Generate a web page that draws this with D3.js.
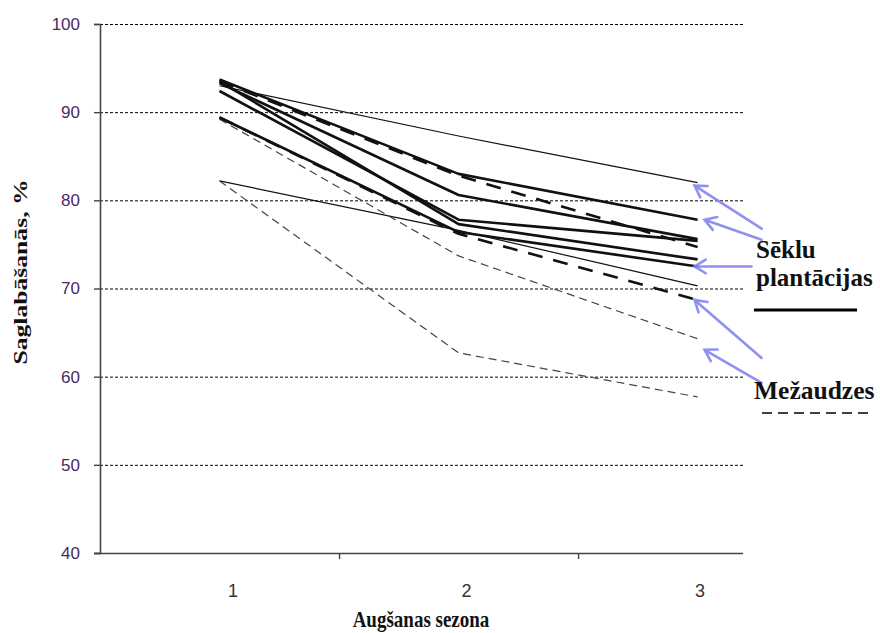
<!DOCTYPE html>
<html><head><meta charset="utf-8">
<script src="https://cdn.jsdelivr.net/npm/d3@7"></script>
<style>body{margin:0;background:#fff}svg{display:block}</style>
</head><body>
<script>
// ---- data ----
const seasons = [1, 2, 3];
const yTicks = [40, 50, 60, 70, 80, 90, 100];
const gridValues = [50, 60, 70, 80, 90, 100];
const seriesNames = ["SP1","SP2","SP3","SP4","SP5","SP6","SP7","M1","M2","M3","M4"];
const seriesGroup = ["plant","plant","plant","plant","plant","plant","plant","forest","forest","forest","forest"];
const seriesWeight = ["thin","thin","thick","thick","thick","thick","thick","thick","thick","thin","thin"];
const seriesValues = [
  [93.0, 87.3, 82.0],
  [82.2, 76.6, 70.3],
  [93.7, 83.0, 77.8],
  [93.3, 80.6, 75.6],
  [92.4, 77.8, 75.4],
  [93.5, 77.3, 73.3],
  [89.4, 76.4, 72.5],
  [93.5, 82.8, 74.7],
  [89.4, 76.2, 68.7],
  [89.2, 73.7, 64.3],
  [82.2, 62.7, 57.7]
];
const yTitle = "Saglabāšanās, %";
const xTitle = "Augšanas sezona";
const legendPlant = ["Sēklu", "plantācijas"];
const legendForest = "Mežaudzes";
// arrows point at series end values (index of series)
const arrowTargets = [0, 2, 6, 8, 9];

// ---- chart ----
const W = 880, H = 633;
const svg = d3.select("body").append("svg").attr("width", W).attr("height", H);
const x = d3.scaleLinear().domain([0.5, 3.19]).range([100, 743]);
const y = d3.scaleLinear().domain([40, 100]).range([553, 24]);
const xLabel = d3.scalePoint().domain(seasons).range([233, 700]);

// grid
svg.append("g").selectAll("line").data(gridValues).join("line")
  .attr("x1", x(0.5)).attr("x2", x(3.19))
  .attr("y1", d => y(d) + 0.5).attr("y2", d => y(d) + 0.5)
  .attr("stroke", "#000").attr("stroke-width", 1).attr("stroke-dasharray", "3,2");

// y axis
const yAxis = svg.append("g").attr("transform", `translate(${x(0.5)},0)`)
  .call(d3.axisLeft(y).tickValues(yTicks).tickSize(6).tickPadding(14));
yAxis.select(".domain").attr("stroke", "#444").attr("stroke-width", 1.6);
yAxis.selectAll(".tick line").attr("stroke", "#444").attr("stroke-width", 1.4);
yAxis.selectAll("text").attr("font-family", "Liberation Sans, Arial, sans-serif")
  .attr("font-size", 17).attr("fill", "#4a2a66");

// x axis
const xAxis = svg.append("g").attr("transform", `translate(0,${y(40)})`)
  .call(d3.axisBottom(x).tickValues([1.5, 2.5]).tickSize(6).tickFormat(""));
xAxis.select(".domain").attr("stroke", "#444").attr("stroke-width", 1.6)
  .attr("d", `M${x(0.5) - 6},0.5H${x(3.19)}`);
xAxis.selectAll(".tick line").attr("stroke", "#444").attr("stroke-width", 1.4);

svg.append("g").selectAll("text").data(seasons).join("text")
  .attr("x", d => xLabel(d)).attr("y", 597)
  .attr("text-anchor", "middle")
  .attr("font-family", "Liberation Sans, Arial, sans-serif").attr("font-size", 18)
  .attr("fill", "#333").text(d => d);

// lines
const line = d3.line().x((d, i) => x(seasons[i])).y(d => y(d));
const order = d3.range(seriesValues.length).sort((a, b) => (seriesWeight[a] === "thin" ? 0 : 1) - (seriesWeight[b] === "thin" ? 0 : 1));
svg.append("g").selectAll("path").data(order).join("path")
  .attr("d", i => line(seriesValues[i]))
  .attr("fill", "none")
  .attr("stroke", i => seriesWeight[i] === "thin" && seriesGroup[i] === "forest" ? "#444" : "#111")
  .attr("stroke-width", i => seriesWeight[i] === "thick" ? 2.6 : 1.2)
  .attr("stroke-dasharray", i => seriesGroup[i] === "forest" ? (seriesWeight[i] === "thick" ? "15,11" : "8,5") : null)
  .attr("stroke-linejoin", "round");

// arrows
const arrowGeom = [
  {dx: -3, dy: 3, tx: 67, ty: 43},
  {dx: 7, dy: 0, tx: 57, ty: 20},
  {dx: -3, dy: 0, tx: 57, ty: 0},
  {dx: -3, dy: 0, tx: 67, ty: 58},
  {dx: 7, dy: 11, tx: 57, ty: 33}
];
const ag = svg.append("g").attr("stroke", "#8585f0").attr("stroke-width", 2.6)
  .attr("fill", "none").attr("stroke-linecap", "round").attr("opacity", 0.9);
arrowTargets.forEach((si, k) => {
  const g = arrowGeom[k];
  const hx = x(3) + g.dx, hy = y(seriesValues[si][2]) + g.dy;
  const tx = hx + g.tx, ty = hy + g.ty;
  const ang = Math.atan2(ty - hy, tx - hx);
  const L = 13, spread = 0.55;
  ag.append("path").attr("d",
    `M${tx},${ty}L${hx},${hy}` +
    `M${hx + L * Math.cos(ang - spread)},${hy + L * Math.sin(ang - spread)}L${hx},${hy}` +
    `L${hx + L * Math.cos(ang + spread)},${hy + L * Math.sin(ang + spread)}`);
});

// legend
const lf = "'Liberation Serif', 'Times New Roman', serif";
svg.append("text").attr("x", 756).attr("y", 258).attr("font-family", lf).attr("font-weight", "bold")
  .attr("font-size", 25).attr("fill", "#111").text(legendPlant[0]);
svg.append("text").attr("x", 756).attr("y", 286).attr("font-family", lf).attr("font-weight", "bold")
  .attr("font-size", 25).attr("fill", "#111").text(legendPlant[1]);
svg.append("line").attr("x1", 754).attr("x2", 857).attr("y1", 310).attr("y2", 310)
  .attr("stroke", "#000").attr("stroke-width", 3);
svg.append("text").attr("x", 754).attr("y", 399).attr("font-family", lf).attr("font-weight", "bold")
  .attr("font-size", 25.5).attr("fill", "#111").text(legendForest);
svg.append("line").attr("x1", 762).attr("x2", 868).attr("y1", 413).attr("y2", 413)
  .attr("stroke", "#000").attr("stroke-width", 1.5).attr("stroke-dasharray", "10,6");

// titles
svg.append("text").attr("transform", `translate(27,272) scale(1,1.35) rotate(-90)`)
  .attr("text-anchor", "middle").attr("font-family", lf).attr("font-weight", "bold")
  .attr("font-size", 19).attr("fill", "#111").text(yTitle);
svg.append("text").attr("transform", `translate(421,627) scale(1,1.25)`).attr("text-anchor", "middle")
  .attr("font-family", lf).attr("font-weight", "bold").attr("font-size", 19)
  .attr("fill", "#111").text(xTitle);
</script>
</body></html>
